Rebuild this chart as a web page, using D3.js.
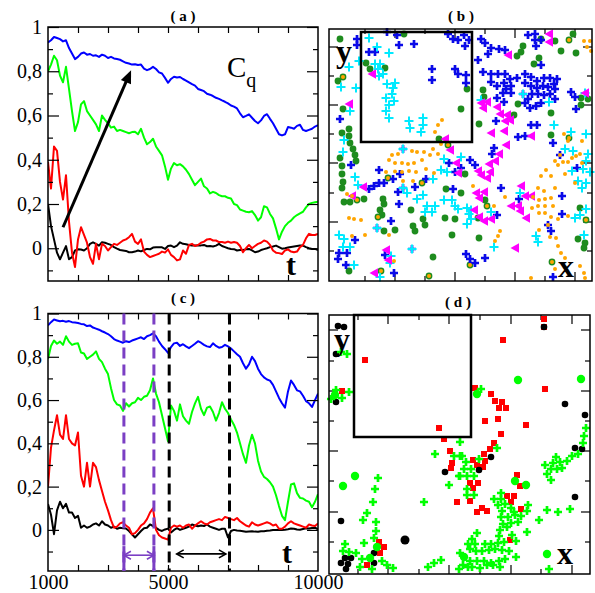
<!DOCTYPE html>
<html>
<head>
<meta charset="utf-8">
<script src="https://cdn.jsdelivr.net/npm/d3@7"></script>
<style>
  body { margin: 0; background: #fff; }
  svg { display: block; }
  text { font-family: "Liberation Serif", "Times New Roman", serif; }
</style>
</head>
<body>
<svg id="fig" width="595" height="593"></svg>
<script>
// ---------- time grid (sampling of the correlation curves) ----------
const timeGrid = d3.range(1000, 10001, 100);

// ---------- panel (a): C_q(t) ----------
const aBlue = [
  0.93, 0.94, 0.955, 0.95, 0.945, 0.935, 0.94, 0.905, 0.88, 0.855,
  0.865, 0.88, 0.885, 0.875, 0.878, 0.87, 0.872, 0.865, 0.875, 0.87,
  0.86, 0.865, 0.858, 0.855, 0.852, 0.845, 0.838, 0.835, 0.83, 0.832,
  0.828, 0.83, 0.812, 0.805, 0.81, 0.82, 0.81, 0.795, 0.79, 0.77,
  0.748, 0.765, 0.775, 0.772, 0.774, 0.765, 0.758, 0.75, 0.742, 0.735,
  0.72, 0.715, 0.71, 0.698, 0.694, 0.688, 0.68, 0.675, 0.668, 0.662,
  0.655, 0.645, 0.64, 0.632, 0.61, 0.592, 0.598, 0.605, 0.59, 0.575,
  0.565, 0.578, 0.598, 0.606, 0.585, 0.565, 0.54, 0.515, 0.51, 0.515,
  0.548, 0.545, 0.54, 0.553, 0.558, 0.535, 0.53, 0.535, 0.54, 0.55,
  0.556
];
const aGreen = [
  0.80, 0.83, 0.87, 0.85, 0.78, 0.75, 0.82, 0.72, 0.62, 0.53,
  0.57, 0.65, 0.665, 0.62, 0.6, 0.58, 0.56, 0.53, 0.6, 0.58,
  0.565, 0.545, 0.55, 0.53, 0.535, 0.53, 0.525, 0.52, 0.525, 0.527,
  0.515, 0.54, 0.5, 0.47, 0.48, 0.495, 0.46, 0.44, 0.42, 0.37,
  0.31, 0.36, 0.385, 0.375, 0.38, 0.37, 0.355, 0.335, 0.31, 0.285,
  0.3, 0.315, 0.28, 0.27, 0.248, 0.255, 0.25, 0.24, 0.235, 0.235,
  0.228, 0.225, 0.2, 0.195, 0.175, 0.17, 0.165, 0.163, 0.168, 0.15,
  0.125, 0.14, 0.19, 0.185, 0.155, 0.135, 0.09, 0.04, 0.075, 0.1,
  0.115, 0.125, 0.14, 0.15, 0.158, 0.165, 0.185, 0.2, 0.205, 0.208,
  0.21
];
const aRed = [
  0.39, 0.27, 0.46, 0.44, 0.3, 0.22, 0.33, 0.12, -0.02, -0.085,
  0.04, 0.095, 0.06, 0.025, -0.04, -0.07, 0.02, -0.05, 0.02, 0.01,
  -0.01, 0.005, 0.02, 0.015, 0.025, 0.035, 0.04, 0.05, 0.065, 0.03,
  0.02, 0.04, -0.015, -0.03, -0.04, -0.035, -0.03, -0.025, -0.015, -0.02,
  -0.005, -0.03, -0.04, -0.055, -0.05, -0.01, -0.025, 0.015, 0.02, 0.01,
  0.015, 0.025, 0.03, 0.04, 0.042, 0.035, 0.035, 0.028, 0.028, 0.025,
  0.03, 0.025, 0.028, 0.025, 0.01, -0.018, 0.0, 0.015, 0.0, 0.01,
  0.02, 0.025, 0.035, 0.03, 0.015, -0.01, -0.02, -0.022, -0.026, -0.01,
  -0.005, -0.015, -0.018, -0.015, 0.005, 0.015, 0.045, 0.065, 0.06, 0.06,
  0.065
];
const aBlack = [
  0.2, 0.1, 0.04, -0.02, -0.05, -0.02, 0.01, -0.05, -0.04, -0.01,
  -0.005, -0.006, -0.01, 0.0, 0.02, 0.027, 0.02, 0.012, 0.027, 0.025,
  0.02, 0.015, 0.005, -0.002, -0.008, -0.01, -0.012, -0.018, -0.018, -0.015,
  -0.01, -0.014, -0.008, -0.003, -0.005, 0.003, 0.005, 0.005, 0.004, -0.003,
  0.01, 0.012, 0.005, 0.012, 0.027, 0.02, 0.018, 0.015, 0.012, 0.012,
  0.012, 0.013, 0.015, 0.009, 0.01, 0.008, 0.012, 0.02, 0.01, 0.005,
  0.0, -0.003, -0.004, -0.01, -0.008, -0.008, -0.005, -0.003, -0.01, -0.018,
  -0.015, -0.008, -0.004, 0.0, 0.005, 0.008, 0.012, 0.005, -0.002, 0.0,
  0.003, 0.006, 0.008, 0.01, 0.012, 0.012, 0.005, 0.0, -0.003, -0.003,
  -0.008
];

// ---------- panel (c): C_q(t) ----------
const cBlue = [
  0.945, 0.96, 0.972, 0.968, 0.964, 0.966, 0.962, 0.965, 0.96, 0.958,
  0.956, 0.952, 0.95, 0.942, 0.945, 0.935, 0.93, 0.925, 0.918, 0.912,
  0.905, 0.895, 0.882, 0.875, 0.87, 0.865, 0.872, 0.868, 0.875, 0.88,
  0.885, 0.89, 0.882, 0.895, 0.9, 0.908, 0.895, 0.87, 0.85, 0.835,
  0.818, 0.845, 0.862, 0.865, 0.85, 0.858, 0.848, 0.84, 0.85, 0.86,
  0.872, 0.865, 0.855, 0.848, 0.845, 0.862, 0.85, 0.842, 0.845, 0.855,
  0.848, 0.838, 0.825, 0.812, 0.8, 0.77, 0.745, 0.765, 0.8, 0.78,
  0.745, 0.72, 0.705, 0.695, 0.69, 0.67, 0.64, 0.61, 0.585, 0.565,
  0.64, 0.69, 0.67, 0.645, 0.64, 0.62, 0.595, 0.585, 0.568, 0.6,
  0.63
];
const cGreen = [
  0.79, 0.85, 0.875, 0.86, 0.87, 0.855, 0.895, 0.87, 0.855, 0.86,
  0.862, 0.82, 0.815, 0.79, 0.8, 0.81, 0.825, 0.79, 0.775, 0.745,
  0.72, 0.655, 0.6, 0.58, 0.575, 0.55, 0.585, 0.57, 0.585, 0.59,
  0.61, 0.6, 0.615, 0.62, 0.645, 0.7, 0.63, 0.59, 0.53, 0.47,
  0.41, 0.575, 0.55, 0.505, 0.58, 0.525, 0.505, 0.49, 0.545, 0.585,
  0.615, 0.56, 0.53, 0.565, 0.57, 0.545, 0.505, 0.54, 0.59, 0.56,
  0.54, 0.51, 0.485, 0.45, 0.4, 0.35, 0.31, 0.39, 0.44, 0.4,
  0.32, 0.27, 0.245, 0.235, 0.22, 0.2, 0.16, 0.11, 0.065, 0.045,
  0.13, 0.21, 0.215, 0.17, 0.148, 0.145, 0.135, 0.13, 0.105, 0.13,
  0.165
];
const cRed = [
  0.2, 0.38, 0.46, 0.53, 0.44, 0.42, 0.53, 0.42, 0.4, 0.39,
  0.45, 0.25, 0.2, 0.31, 0.2, 0.31, 0.29, 0.23, 0.18, 0.13,
  0.09, 0.045, 0.01, 0.015, 0.03, 0.035, 0.02, 0.01, -0.02, -0.015,
  0.0, 0.02, 0.03, 0.05, 0.08, 0.1, 0.0, -0.025, -0.035, -0.04,
  -0.045, 0.01, 0.02, 0.015, 0.02, 0.01, 0.02, 0.025, 0.005, 0.02,
  0.03, 0.04, 0.03, 0.025, 0.035, 0.04, 0.045, 0.05, 0.045, 0.06,
  0.055, 0.05, 0.045, 0.055, 0.04, 0.03, 0.02, 0.015, 0.035, 0.025,
  0.02, 0.025, 0.03, 0.035, 0.03, 0.02, 0.025, 0.005, 0.005, 0.015,
  0.03, 0.04, 0.03, 0.025, 0.02, 0.015, 0.01, 0.025, 0.02, 0.018,
  0.03
];
const cBlack = [
  0.12, 0.07, -0.02, 0.09, 0.13, 0.1, 0.12, 0.08, 0.08, 0.055,
  0.065, 0.01, 0.02, 0.01, 0.015, 0.025, 0.03, 0.02, 0.04, 0.025,
  0.02, 0.01, 0.015, 0.005, 0.01, 0.008, 0.006, -0.005, -0.02, -0.035,
  -0.02, -0.005, 0.008, 0.01, 0.025, 0.018, 0.01, 0.0, -0.005, 0.002,
  0.006, -0.012, 0.0, 0.008, 0.0, 0.005, 0.01, 0.015, 0.025, 0.02,
  0.017, 0.02, 0.018, 0.025, 0.015, 0.01, 0.005, 0.0, 0.005, 0.005,
  -0.035, -0.005, 0.0, -0.003, -0.004, -0.006, -0.009, -0.007, -0.006, -0.008,
  -0.009, -0.006, -0.006, -0.004, -0.003, -0.001, 0.0, 0.001, 0.0, 0.001,
  0.003, 0.006, 0.005, 0.002, 0.001, 0.004, 0.007, 0.006, 0.009, 0.01,
  0.003
];

// ---------- axis ticks for the C_q panels ----------
const yTickVals = [0, 0.2, 0.4, 0.6, 0.8, 1];
const yTickLabels = ["0", "0,2", "0,4", "0,6", "0,8", "1"];
const yMinorVals = [-0.1, 0.1, 0.3, 0.5, 0.7, 0.9];
const tTickVals = [2000, 3000, 4000, 5000, 6000, 7000, 8000, 9000];
const tLabelVals = [1000, 5000, 10000];
const tLabels = ["1000", "5000", "10000"];

// trend arrow in (a): [t, C] tail and head
const trendArrow = [[1500, 0.095], [3770, 0.805]];
// marked windows in (c)
const purpleMarks = [3530, 4530];
const blackMarks = [5040, 7050];
const purpleSpan = { from: 3530, to: 4530, level: -0.117 };
const blackSpan = { from: 5290, to: 6930, level: -0.111 };

// ---------- panel (b): particle positions ----------
const bBlue = [[2.8,24.2],[5.8,24.9],[6.8,24.6],[8.5,23.7],[7.0,23.6],[12.4,24.2],[12.9,24.1],[11.9,24.7],[2.8,23.6],[4.0,22.9],[4.6,22.9],[10.3,21.2],[12.6,21.2],[10.3,20.1],[1.1,16.2],[2.2,11.6],[5.0,11.1],[12.6,10.9],[12.0,11.8],[4.0,9.2],[4.5,9.5],[5.0,9.8],[5.5,9.8],[6.4,10.2],[7.1,10.7],[9.7,10.2],[6.9,8.9],[8.6,9.4],[7.0,7.7],[12.4,9.2],[6.2,6.0],[2.6,4.1],[1.0,2.8],[1.8,2.8],[0.9,2.2],[5.6,2.6],[1.7,1.6],[6.5,0.8],[7.4,13.2],[7.4,9.3],[4.8,5.3],[8.3,3.2],[23.1,12.6],
  [13.5,24.6],[14.0,24.1],[13.6,23.5],[15.2,24.2],[15.6,23.8],[16.2,23.3],[17.0,23.2],[17.6,23.1],[15.9,22.7],[14.9,22.1],[19.9,24.6],[20.6,24.7],[20.6,24.1],[21.2,24.1],[20.7,23.5],[21.2,21.6],[15.4,20.9],[16.2,20.7],[16.9,20.7],[17.6,20.7],[18.1,20.2],[18.8,20.3],[19.6,20.7],[20.2,20.4],[20.8,20.0],[21.5,20.3],[22.1,20.3],[22.8,20.2],[12.9,20.7],[13.7,20.6],[13.7,19.8],[16.2,19.9],[16.8,19.5],[17.5,19.8],[18.2,19.5],[17.7,19.2],[18.2,18.8],[19.6,19.8],[20.2,19.5],[20.8,19.3],[21.4,19.5],[21.9,19.4],[22.5,19.7],[22.6,19.2],[16.8,18.3],[17.4,18.8],[17.5,17.9],[19.4,18.7],[19.9,18.2],[20.3,18.7],[20.9,18.7],[21.5,18.6],[22.1,18.7],[22.6,18.2],[19.6,17.8],[20.1,17.3],[20.7,17.5],[21.2,17.8],[16.7,16.0],[20.2,15.6],[20.8,15.6],[18.9,14.4],[19.6,14.5],[22.4,13.8],[24.2,18.9],[24.6,18.4],[24.7,17.2],[16.3,12.7],[16.5,13.3],[14.1,12.1],[14.6,11.6],[13.2,11.3],[24.8,11.3],[17.2,9.3],[19.0,8.2],[23.3,8.5],[16.8,6.6],[23.3,6.7],[22.2,5.0],[13.7,2.7],[14.1,2.2],[14.6,1.8],[15.6,2.3],[22.4,0.4],[21.9,5.6]];
const bGreen = [[1.1,24.2],[7.5,24.7],[3.7,21.8],[4.1,21.2],[5.6,21.3],[0.9,20.0],[1.4,20.4],[1.4,17.2],[1.3,14.8],[2.0,15.2],[2.0,14.5],[2.1,13.8],[2.4,13.2],[2.6,12.6],[2.7,12.0],[1.1,12.3],[13.2,17.2],[11.0,14.2],[11.9,13.6],[1.3,11.5],[1.3,10.7],[1.4,9.9],[1.3,9.3],[5.9,10.3],[9.3,9.8],[1.5,7.9],[2.1,7.9],[2.8,8.1],[3.5,8.2],[11.7,9.2],[8.2,7.1],[9.4,6.2],[5.4,8.2],[5.5,7.7],[5.1,7.1],[5.3,6.6],[4.9,6.4],[11.6,6.3],[12.6,6.2],[8.4,5.5],[8.6,5.0],[5.5,5.0],[6.6,5.1],[9.6,5.6],[12.3,4.6],[10.4,2.4],[2.0,1.0],[5.2,1.0],[10.0,0.5],
  [22.6,24.0],[21.2,24.2],[19.4,23.5],[19.2,22.9],[18.8,22.5],[21.0,22.3],[20.5,21.7],[23.2,23.0],[24.4,24.7],[24.7,22.8],[24.0,24.1],[13.8,19.2],[15.4,19.1],[15.5,18.4],[18.9,17.7],[18.5,16.6],[15.0,15.7],[22.2,16.8],[25.2,18.3],[25.9,18.2],[25.2,17.6],[22.2,14.6],[24.0,14.3],[13.6,10.7],[13.2,8.8],[15.6,8.1],[25.1,7.3],[25.7,6.1],[15.8,7.5],[14.9,6.3],[24.9,4.2],[25.6,3.8],[25.5,3.3],[15.0,4.3],[14.1,1.6],[22.3,1.9]];
const bCyan = [[4.0,24.3],[4.8,23.4],[6.0,22.8],[3.0,22.0],[4.6,21.7],[5.1,21.7],[4.9,21.2],[5.4,20.7],[5.0,20.5],[2.0,21.4],[1.2,19.4],[2.7,19.3],[5.8,19.7],[6.4,19.3],[6.6,19.8],[6.3,18.7],[5.7,18.3],[6.5,18.0],[6.0,17.6],[5.7,17.0],[6.0,16.3],[2.1,17.0],[8.0,16.0],[9.4,16.3],[9.4,15.6],[8.1,15.3],[9.2,14.9],[1.5,14.1],[1.4,12.9],[7.4,13.2],[11.5,12.2],[11.2,11.1],[11.8,10.9],[2.6,10.4],[10.4,10.2],[7.8,8.8],[7.4,9.3],[9.4,8.6],[8.8,8.2],[9.8,7.5],[9.6,6.9],[10.3,6.9],[10.6,7.5],[11.5,8.1],[12.3,8.1],[12.6,7.5],[12.9,7.2],[4.8,5.3],[1.0,4.6],[1.5,4.2],[1.4,3.4],[2.1,3.4],[8.3,3.2],[6.2,2.5],[6.1,1.8],[2.5,1.6],[5.1,0.4],[2.9,9.6],
  [19.4,18.7],[22.0,17.9],[15.2,18.1],[22.5,15.6],[25.6,18.8],[24.2,14.9],[25.7,14.7],[23.6,13.2],[24.4,13.0],[25.9,12.7],[25.7,12.0],[25.4,11.2],[26.1,10.9],[24.3,11.0],[13.2,12.4],[24.9,10.0],[25.3,9.3],[25.7,9.8],[19.1,8.8],[24.6,6.3],[25.1,6.6],[25.7,7.2],[13.8,7.3],[14.2,7.1],[14.0,6.7],[13.8,5.7],[14.2,6.2],[16.2,6.9],[20.7,4.5],[20.9,3.9],[16.5,3.4],[25.5,4.6]];
const bMagenta = [[4.3,20.7],[2.0,17.7],[11.6,14.2],[12.1,13.1],[12.7,11.8],[12.9,10.8],[3.4,9.4],[2.3,8.5],[5.7,3.1],[5.9,2.1],[4.5,0.8],
  [17.9,22.6],[22.0,24.7],[22.0,23.9],[15.2,17.8],[15.8,17.9],[15.4,17.3],[16.8,17.4],[17.1,16.7],[17.8,16.6],[17.6,16.0],[18.1,16.1],[16.2,14.8],[17.5,15.0],[20.2,14.5],[17.7,13.6],[17.0,12.7],[16.6,12.0],[16.0,11.7],[14.9,11.0],[15.2,10.6],[15.8,10.3],[16.1,10.9],[14.7,8.8],[15.5,8.9],[15.0,8.3],[19.2,9.5],[19.6,8.5],[20.2,8.5],[18.2,7.5],[18.9,7.5],[19.1,7.0],[19.7,6.3],[14.5,7.1],[15.0,6.4],[15.5,6.0],[16.2,6.2],[18.6,3.3],[25.6,18.8]];
const bOrange = [[1.4,20.4],[11.3,16.1],[10.9,15.6],[10.6,14.9],[11.2,13.7],[11.9,13.6],[10.4,13.2],[6.9,12.7],[6.3,12.6],[8.3,13.0],[8.8,12.9],[9.5,12.9],[10.1,12.6],[6.0,12.1],[6.6,11.8],[7.3,11.8],[7.9,11.7],[8.5,11.8],[9.3,12.1],[10.9,12.7],[5.7,10.9],[6.6,10.95],[7.3,10.9],[8.0,11.0],[8.7,10.9],[9.7,11.2],[10.5,10.8],[5.9,10.3],[7.4,10.0],[8.4,10.0],[9.3,9.8],[1.8,8.7],[2.3,8.5],[2.8,8.1],[2.0,6.3],[2.5,6.2],[3.2,6.1],[4.9,6.4],[3.6,4.6],[2.3,4.5],[6.0,4.6],[6.5,2.0],[5.2,1.0],[10.0,0.5],
  [24.0,24.1],[25.5,24.0],[26.1,24.0],[25.8,23.4],[26.2,23.0],[23.5,14.7],[23.9,14.0],[25.3,14.0],[24.0,14.3],[21.7,11.1],[22.9,11.6],[22.6,12.0],[23.1,12.6],[23.4,11.9],[23.9,11.9],[24.3,12.3],[24.7,12.5],[25.1,12.7],[25.3,11.8],[21.2,10.5],[22.2,10.5],[23.6,10.7],[24.6,9.8],[14.4,9.5],[17.6,8.4],[20.9,9.3],[21.5,9.0],[22.6,9.3],[20.4,8.4],[21.0,8.1],[21.6,8.2],[22.2,8.3],[20.3,7.3],[20.9,7.5],[21.6,7.5],[22.4,7.5],[21.0,6.8],[21.6,6.8],[22.2,6.4],[22.9,6.2],[23.9,6.5],[16.5,7.5],[15.8,7.5],[17.1,5.0],[16.9,4.5],[16.6,4.0],[21.0,5.1],[22.1,4.4],[22.7,4.3],[22.9,3.5],[23.2,2.8],[23.6,2.3],[21.9,5.6],[14.1,1.6],[22.3,1.9],[20.2,0.3],[22.6,1.2],[25.1,1.5],[25.5,0.8],[25.6,0.3],[25.7,6.1]];

// ---------- panel (d): particle positions ----------
const dRed = [[3.6,21.4],[1.3,18.3],[11.0,14.6],[11.5,13.5],[12.1,12.3],[12.3,11.1],[12.2,10.6],[12.8,7.2],[5.0,3.2],[5.5,2.7],[5.1,2.1],[3.8,0.9],[2.6,9.8],[1.4,8.8],[21.5,25.5],[21.5,24.7],[17.4,23.4],[18.9,19.4],[25.2,19.5],[21.6,18.5],[14.6,18.6],[14.8,18.0],[16.2,18.0],[16.6,17.3],[17.3,17.2],[17.7,16.6],[17.0,16.6],[15.6,15.3],[16.9,15.5],[19.7,14.9],[17.2,14.0],[16.5,13.1],[16.1,12.5],[15.5,12.0],[14.4,11.4],[15.6,11.3],[14.8,10.9],[15.4,10.7],[18.8,9.9],[19.1,8.8],[19.7,8.9],[14.1,9.1],[14.9,9.1],[14.4,8.6],[14.1,7.3],[17.8,7.8],[18.5,7.8],[18.2,7.2],[19.2,6.5],[15.3,6.6],[14.8,6.2],[15.8,6.3],[18.1,3.4]];
const dBlack = [[0.9,24.8],[1.5,24.7],[0.7,22.0],[0.7,17.2],[11.6,10.2],[1.2,5.3],[4.5,2.1],[1.6,1.6],[2.2,1.6],[1.2,1.1],[1.9,1.0],[1.7,0.5],[4.5,1.1],[21.5,24.7],[23.6,17.0],[25.6,15.9],[24.6,12.6],[25.3,12.5],[16.2,11.7],[15.0,10.4],[24.6,7.7]];
const dBlackLarge = [[7.6,3.4]];
const dLime = [[1.2,22.2],[1.8,22.0],[0.7,18.4],[2.0,18.2],[0.2,17.5],[1.3,17.6],[13.1,13.2],[10.6,12.0],[12.5,11.8],[13.1,11.8],[13.0,9.8],[12.0,8.9],[4.9,9.6],[4.6,8.5],[4.4,7.2],[9.5,7.2],[3.8,6.1],[3.4,5.4],[4.7,5.2],[4.7,4.3],[4.5,3.6],[1.6,3.0],[3.5,3.1],[1.4,2.3],[2.0,2.2],[2.7,2.1],[3.3,1.5],[3.1,0.7],[4.3,0.5],[5.3,1.3],[5.8,0.9],[6.4,0.6],[9.9,0.7],[10.5,1.1],[11.2,1.4],[13.0,0.5],
  [15.2,18.5],[25.7,14.6],[25.5,13.8],[25.4,13.1],[16.8,12.6],[24.9,12.0],[24.3,11.8],[23.8,11.3],[15.0,11.5],[13.7,11.2],[13.5,10.5],[14.2,10.5],[13.1,9.8],[13.8,9.8],[14.5,9.8],[13.3,11.8],[22.7,11.7],[22.4,11.1],[23.1,11.2],[23.3,10.6],[22.8,10.5],[21.6,10.9],[22.2,10.5],[21.8,10.0],[22.2,9.4],[13.8,8.5],[14.5,7.9],[13.8,7.9],[17.2,8.1],[16.5,7.5],[17.2,7.5],[16.9,6.9],[17.6,7.0],[18.2,6.6],[17.3,6.3],[18.5,6.2],[19.9,6.9],[19.8,6.3],[17.2,5.7],[17.9,5.7],[18.6,5.9],[19.2,5.8],[18.9,5.2],[18.2,5.1],[17.4,5.0],[17.1,4.4],[17.8,4.7],[18.3,3.9],[19.8,4.2],[18.7,3.3],[21.8,6.4],[22.9,6.2],[24.1,6.5],[21.0,5.4],[14.8,4.1],[14.3,3.5],[13.9,3.0],[14.6,3.0],[15.6,3.0],[16.2,3.0],[16.9,3.1],[17.5,3.2],[17.0,3.8],[13.1,2.1],[14.1,2.5],[14.7,2.3],[15.3,2.3],[16.0,2.4],[16.6,2.5],[17.3,2.4],[18.0,2.3],[18.7,1.7],[14.1,1.3],[14.8,1.3],[15.5,1.3],[16.2,1.1],[17.0,1.3],[17.6,1.5],[13.4,0.9],[13.9,0.7],[14.3,0.7],[15.1,0.6],[15.8,0.9],[16.4,0.9],[17.1,0.7],[22.0,0.5]];
const dLimeCircle = [[0.6,17.9],[2.6,9.8],[1.4,8.8],[4.8,2.7],[4.1,1.6],[18.9,19.4],[25.2,19.5],[14.8,18.0],[18.6,9.3],[19.7,8.9],[13.5,1.7],[21.8,2.0]];

// box ticks and the sub-region outlines (box units)
const bTicksX = [3.6, 6.6, 9.6, 12.6, 15.6, 18.6, 21.6, 24.6];
const bTicksY = [3.0, 5.9, 8.8, 11.8, 14.7, 17.6, 20.5, 23.4];
const dTicksX = [2.9, 5.9, 9.0, 12.0, 15.1, 18.2, 21.2, 24.3];
const dTicksY = [3.2, 6.2, 9.3, 12.3, 15.3, 18.3, 21.3, 24.4];
const bRegion = [[3.2, 13.9], [14.3, 24.9]];
const dRegion = [[2.5, 13.7], [14.2, 25.9]];

// ---------- layout ----------
const svg = d3.select("#fig");
const panels = {
  a: { x0: 48, x1: 318, y0: 27, y1: 281, yMin: -0.148 },
  c: { x0: 48, x1: 318, y0: 313.5, y1: 571, yMin: -0.19 },
  b: { x0: 329, x1: 592, y0: 29, y1: 281, xMax: 26.3, yMax: 25.2 },
  d: { x0: 329, x1: 590, y0: 315, y1: 574, xMax: 26.1, yMax: 25.9 }
};
const COL = { blue: "#0000ff", green: "#00ff00", red: "#ff0000", black: "#000000" };
const PURPLE = "#7b3fc4";

function frame(p) {
  svg.append("rect")
    .attr("x", p.x0).attr("y", p.y0)
    .attr("width", p.x1 - p.x0).attr("height", p.y1 - p.y0)
    .attr("fill", "none").attr("stroke", "#000").attr("stroke-width", 1.5);
}

function title(txt, x, y) {
  svg.append("text").attr("x", x).attr("y", y)
    .attr("text-anchor", "middle").attr("font-size", 15).attr("font-weight", "bold")
    .text(txt);
}

function styleAxis(g) {
  g.select(".domain").remove();
  g.selectAll("line").attr("stroke-width", 1.2);
  g.attr("font-family", "Liberation Serif, Times New Roman, serif").attr("font-size", 20);
  g.selectAll("text").attr("fill", "#000");
}

function correlationPanel(key, series, showTimeLabels) {
  const p = panels[key];
  const x = d3.scaleLinear().domain([1000, 10000]).range([p.x0, p.x1]);
  const y = d3.scaleLinear().domain([p.yMin, 1]).range([p.y1, p.y0]);

  const clipId = "clip-" + key;
  svg.append("clipPath").attr("id", clipId).append("rect")
    .attr("x", p.x0).attr("y", p.y0).attr("width", p.x1 - p.x0).attr("height", p.y1 - p.y0);

  const line = d3.line().x(d => x(d[0])).y(d => y(d[1]));
  const g = svg.append("g").attr("clip-path", `url(#${clipId})`);
  series.forEach(s => {
    g.append("path")
      .datum(timeGrid.map((t, i) => [t, s.values[i]]))
      .attr("d", line)
      .attr("fill", "none").attr("stroke", s.color)
      .attr("stroke-width", 2).attr("stroke-linejoin", "round");
  });

  // axes (inward ticks on all four sides)
  svg.append("g").attr("transform", `translate(${p.x0},0)`)
    .call(d3.axisLeft(y).tickValues(yTickVals).tickFormat((d, i) => yTickLabels[i])
      .tickSize(-11).tickPadding(6).tickSizeOuter(0)).call(styleAxis);
  svg.append("g").attr("transform", `translate(${p.x0},0)`)
    .call(d3.axisLeft(y).tickValues(yMinorVals).tickFormat("").tickSize(-5).tickSizeOuter(0)).call(styleAxis);
  svg.append("g").attr("transform", `translate(${p.x1},0)`)
    .call(d3.axisRight(y).tickValues(yTickVals).tickFormat("").tickSize(-11).tickSizeOuter(0)).call(styleAxis);
  svg.append("g").attr("transform", `translate(${p.x1},0)`)
    .call(d3.axisRight(y).tickValues(yMinorVals).tickFormat("").tickSize(-5).tickSizeOuter(0)).call(styleAxis);
  svg.append("g").attr("transform", `translate(0,${p.y1})`)
    .call(d3.axisBottom(x).tickValues(tTickVals).tickFormat("").tickSize(-6).tickSizeOuter(0)).call(styleAxis);
  svg.append("g").attr("transform", `translate(0,${p.y0})`)
    .call(d3.axisTop(x).tickValues(tTickVals).tickFormat("").tickSize(-6).tickSizeOuter(0)).call(styleAxis);
  if (showTimeLabels) {
    svg.append("g").attr("transform", `translate(0,${p.y1})`)
      .call(d3.axisBottom(x).tickValues(tLabelVals).tickFormat((d, i) => tLabels[i])
        .tickSize(0).tickPadding(4).tickSizeOuter(0)).call(styleAxis);
  }
  frame(p);
  return { x, y };
}

function arrowHead(g, tip, from, len, half, color, filled) {
  const dx = tip[0] - from[0], dy = tip[1] - from[1];
  const L = Math.hypot(dx, dy), ux = dx / L, uy = dy / L;
  const bx = tip[0] - ux * len, by = tip[1] - uy * len;
  const p1 = [bx - uy * half, by + ux * half], p2 = [bx + uy * half, by - ux * half];
  if (filled) {
    g.append("path").attr("d", `M${tip}L${p1}L${p2}Z`).attr("fill", color);
  } else {
    g.append("path").attr("d", `M${p1}L${tip}L${p2}`).attr("fill", "none")
      .attr("stroke", color).attr("stroke-width", 1.6);
  }
}

// ---------- (a) ----------
title("( a )", 183, 21);
const sa = correlationPanel("a", [
  { values: aBlue, color: COL.blue },
  { values: aGreen, color: COL.green },
  { values: aBlack, color: COL.black },
  { values: aRed, color: COL.red }
], false);
{
  const tail = [sa.x(trendArrow[0][0]), sa.y(trendArrow[0][1])];
  const tip = [sa.x(trendArrow[1][0]), sa.y(trendArrow[1][1])];
  const L = Math.hypot(tip[0] - tail[0], tip[1] - tail[1]);
  const k = (L - 10) / L;
  const g = svg.append("g");
  g.append("line").attr("x1", tail[0]).attr("y1", tail[1])
    .attr("x2", tail[0] + (tip[0] - tail[0]) * k).attr("y2", tail[1] + (tip[1] - tail[1]) * k)
    .attr("stroke", "#000").attr("stroke-width", 3);
  arrowHead(g, tip, tail, 13, 5.5, "#000", true);
}
const cq = svg.append("text").attr("x", 227).attr("y", 77).attr("font-size", 29);
cq.append("tspan").text("C");
cq.append("tspan").attr("font-size", 20).attr("dy", 10).text("q");
svg.append("text").attr("x", 286).attr("y", 275).attr("font-size", 30)
  .attr("font-weight", "bold").text("t");

// ---------- (c) ----------
title("( c )", 183, 303);
const sc = correlationPanel("c", [
  { values: cBlue, color: COL.blue },
  { values: cGreen, color: COL.green },
  { values: cBlack, color: COL.black },
  { values: cRed, color: COL.red }
], true);
{
  const g = svg.append("g");
  const pc = panels.c;
  purpleMarks.forEach(t => {
    g.append("line").attr("x1", sc.x(t)).attr("x2", sc.x(t))
      .attr("y1", pc.y0).attr("y2", pc.y1)
      .attr("stroke", PURPLE).attr("stroke-width", 3).attr("stroke-dasharray", "11,6");
    g.append("line").attr("x1", sc.x(t)).attr("x2", sc.x(t))
      .attr("y1", sc.y(-0.075)).attr("y2", pc.y1)
      .attr("stroke", PURPLE).attr("stroke-width", 3);
  });
  blackMarks.forEach(t => {
    g.append("line").attr("x1", sc.x(t)).attr("x2", sc.x(t))
      .attr("y1", pc.y0).attr("y2", pc.y1)
      .attr("stroke", "#000").attr("stroke-width", 3).attr("stroke-dasharray", "11,6");
  });
  [[purpleSpan, PURPLE], [blackSpan, "#000"]].forEach(([s, col]) => {
    const a = [sc.x(s.from), sc.y(s.level)], b = [sc.x(s.to), sc.y(s.level)];
    g.append("line").attr("x1", a[0]).attr("y1", a[1]).attr("x2", b[0]).attr("y2", b[1])
      .attr("stroke", col).attr("stroke-width", 1.6);
    arrowHead(g, a, b, 7, 4, col, false);
    arrowHead(g, b, a, 7, 4, col, false);
  });
}
svg.append("text").attr("x", 282).attr("y", 563).attr("font-size", 30)
  .attr("font-weight", "bold").text("t");

// ---------- scatter panels ----------
const crossPath = d3.symbol().type(d3.symbolCross).size(36)();

function boxPanel(key, ticksX, ticksY, region) {
  const p = panels[key];
  const x = d3.scaleLinear().domain([0, p.xMax]).range([p.x0, p.x1]);
  const y = d3.scaleLinear().domain([0, p.yMax]).range([p.y1, p.y0]);
  const tg = svg.append("g").attr("stroke", "#000").attr("stroke-width", 1.2);
  ticksX.forEach((v, i) => {
    const len = i % 2 ? 9 : 5;
    tg.append("line").attr("x1", x(v)).attr("x2", x(v)).attr("y1", p.y1).attr("y2", p.y1 - len);
    tg.append("line").attr("x1", x(v)).attr("x2", x(v)).attr("y1", p.y0).attr("y2", p.y0 + len);
  });
  ticksY.forEach((v, i) => {
    const len = i % 2 ? 9 : 5;
    tg.append("line").attr("y1", y(v)).attr("y2", y(v)).attr("x1", p.x0).attr("x2", p.x0 + len);
    tg.append("line").attr("y1", y(v)).attr("y2", y(v)).attr("x1", p.x1).attr("x2", p.x1 - len);
  });
  return { x, y, p, region };
}

function drawRegion(s) {
  const [[rx0, ry0], [rx1, ry1]] = s.region;
  svg.append("rect")
    .attr("x", s.x(rx0)).attr("y", s.y(ry1))
    .attr("width", s.x(rx1) - s.x(rx0)).attr("height", s.y(ry0) - s.y(ry1))
    .attr("fill", "none").attr("stroke", "#000").attr("stroke-width", 2.5);
}

// (b)
title("( b )", 461, 21);
const sb = boxPanel("b", bTicksX, bTicksY, bRegion);
{
  const g = svg.append("g");
  g.selectAll(".g").data(bGreen).join("circle")
    .attr("cx", d => sb.x(d[0])).attr("cy", d => sb.y(d[1])).attr("r", 3.4).attr("fill", "#1e8c1e");
  g.selectAll(".bl").data(bBlue).join("path")
    .attr("d", crossPath).attr("transform", d => `translate(${sb.x(d[0])},${sb.y(d[1])})`)
    .attr("fill", "#0a0ae8");
  g.selectAll(".cy").data(bCyan).join("path")
    .attr("d", "M-4.5,0H4.5M0,-4.5V4.5").attr("transform", d => `translate(${sb.x(d[0])},${sb.y(d[1])})`)
    .attr("stroke", "#00eaff").attr("stroke-width", 2).attr("fill", "none");
  g.selectAll(".mg").data(bMagenta).join("path")
    .attr("d", "M-4.5,0L4,-4.8L4,4.8Z").attr("transform", d => `translate(${sb.x(d[0])},${sb.y(d[1])})`)
    .attr("fill", "#ff00ff");
  g.selectAll(".or").data(bOrange).join("circle")
    .attr("cx", d => sb.x(d[0])).attr("cy", d => sb.y(d[1])).attr("r", 2).attr("fill", "#ffa500");
}
drawRegion(sb);
frame(panels.b);
svg.append("text").attr("x", 336).attr("y", 62).attr("font-size", 32).attr("font-weight", "bold").text("y");
svg.append("text").attr("x", 558).attr("y", 277).attr("font-size", 32).attr("font-weight", "bold").text("x");

// (d)
title("( d )", 458, 307);
const sd = boxPanel("d", dTicksX, dTicksY, dRegion);
{
  const g = svg.append("g");
  g.selectAll(".rd").data(dRed).join("rect")
    .attr("x", d => sd.x(d[0]) - 3).attr("y", d => sd.y(d[1]) - 3)
    .attr("width", 6).attr("height", 6).attr("fill", "#ff0000");
  g.selectAll(".bk").data(dBlack).join("circle")
    .attr("cx", d => sd.x(d[0])).attr("cy", d => sd.y(d[1])).attr("r", 3.3).attr("fill", "#000");
  g.selectAll(".bkl").data(dBlackLarge).join("circle")
    .attr("cx", d => sd.x(d[0])).attr("cy", d => sd.y(d[1])).attr("r", 4.5).attr("fill", "#000");
  g.selectAll(".lm").data(dLime).join("path")
    .attr("d", crossPath).attr("transform", d => `translate(${sd.x(d[0])},${sd.y(d[1])})`)
    .attr("fill", "#00ff00");
  g.selectAll(".lc").data(dLimeCircle).join("circle")
    .attr("cx", d => sd.x(d[0])).attr("cy", d => sd.y(d[1])).attr("r", 4.2).attr("fill", "#00ff00");
}
drawRegion(sd);
frame(panels.d);
svg.append("text").attr("x", 334).attr("y", 350).attr("font-size", 32).attr("font-weight", "bold").text("y");
svg.append("text").attr("x", 557).attr("y", 564).attr("font-size", 32).attr("font-weight", "bold").text("x");
</script>
</body>
</html>
